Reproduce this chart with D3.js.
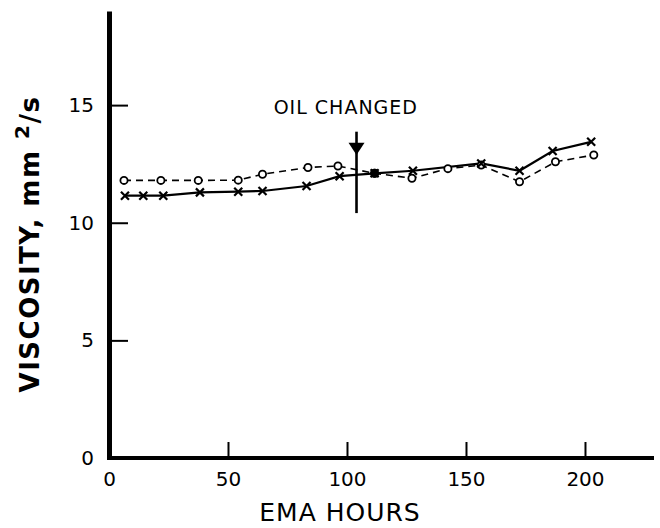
<!DOCTYPE html>
<html>
<head>
<meta charset="utf-8">
<script src="https://cdn.jsdelivr.net/npm/d3@7"></script>
<style>
  body { margin: 0; background: #fff; }
  text { font-family: "DejaVu Sans", sans-serif; fill: #000; }
</style>
</head>
<body>
<div id="chart"></div>
<script>
// chart size
var width = 660, height = 528;

// data
var hoursX = [6.7, 14.4, 22.8, 38.2, 54.3, 64.5, 83.0, 96.9, 111.6, 127.7, 156.4, 172.5, 186.4, 202.6];
var viscX  = [11.15, 11.15, 11.15, 11.29, 11.32, 11.35, 11.56, 11.98, 12.10, 12.21, 12.52, 12.21, 13.05, 13.44];

var hoursO = [6.3, 21.8, 37.5, 54.3, 64.5, 83.6, 96.2, 111.6, 127.3, 142.4, 156.4, 172.5, 187.6, 203.7];
var viscO  = [11.80, 11.80, 11.80, 11.81, 12.06, 12.35, 12.41, 12.10, 11.89, 12.30, 12.45, 11.74, 12.59, 12.88];

// the shared point just after the oil change is drawn filled
var filledHour = [111.6];
var filledVisc = [12.10];

var xTicks = [0, 50, 100, 150, 200];
var yTicks = [0, 5, 10, 15];

var oilChangeHour = 104;
var oilLine = [10.41, 13.87];   // bottom / top of the marker line
var oilArrow = [12.88, 13.40];  // tip / base of the arrow head
var oilLabel = "OIL CHANGED";

var svg = d3.select("#chart")
  .append("svg")
    .attr("width", width)
    .attr("height", height);

var x = d3.scaleLinear()
  .domain([0, 229])
  .range([109, 654]);

var y = d3.scaleLinear()
  .domain([0, 19])
  .range([458, 11]);

// X axis, ticks point up into the plot
var xAxis = svg.append("g")
  .attr("transform", "translate(0," + y(0) + ")")
  .call(d3.axisBottom(x).tickValues(xTicks).tickSizeInner(-16).tickSizeOuter(0).tickPadding(14));
xAxis.select(".domain").attr("stroke-width", 4).attr("d", "M" + (x(0) - 2) + ",0H" + x(229));
xAxis.selectAll(".tick line").attr("stroke-width", 2);
xAxis.selectAll(".tick text").style("font-size", "20px").style("font-family", "DejaVu Sans");

// Y axis, ticks point right
var yAxis = svg.append("g")
  .attr("transform", "translate(" + x(0) + ",0)")
  .call(d3.axisLeft(y).tickValues(yTicks).tickSizeInner(-19).tickSizeOuter(0).tickPadding(15));
yAxis.select(".domain").attr("stroke-width", 5);
yAxis.selectAll(".tick line").attr("stroke-width", 2);
yAxis.selectAll(".tick text").style("font-size", "20px").style("font-family", "DejaVu Sans");

// axis titles
svg.append("text")
  .attr("x", 340)
  .attr("y", 521)
  .attr("text-anchor", "middle")
  .style("font-size", "25px")
  .style("letter-spacing", "1px")
  .text("EMA HOURS");

var yLab = svg.append("text")
  .attr("transform", "translate(39,244) rotate(-90)")
  .attr("text-anchor", "middle")
  .style("font-size", "26px")
  .style("font-weight", "bold")
  .style("letter-spacing", "1.5px");
yLab.append("tspan").text("VISCOSITY,  mm ");
yLab.append("tspan").attr("dy", -10).style("font-size", "20px").text("2");
yLab.append("tspan").attr("dy", 10).text("/s");

// lines
var lineX = d3.line()
  .x(function(d, i) { return x(hoursX[i]); })
  .y(function(d) { return y(d); });
var lineO = d3.line()
  .x(function(d, i) { return x(hoursO[i]); })
  .y(function(d) { return y(d); });

svg.append("path")
  .attr("d", lineO(viscO))
  .attr("fill", "none")
  .attr("stroke", "#000")
  .attr("stroke-width", 1.6)
  .attr("stroke-dasharray", "7,5");

svg.append("path")
  .attr("d", lineX(viscX))
  .attr("fill", "none")
  .attr("stroke", "#000")
  .attr("stroke-width", 2.2);

// open circles
svg.selectAll("circle.o")
  .data(viscO)
  .enter()
  .append("circle")
    .attr("class", "o")
    .attr("cx", function(d, i) { return x(hoursO[i]); })
    .attr("cy", function(d) { return y(d); })
    .attr("r", 3.6)
    .attr("fill", "#fff")
    .attr("stroke", "#000")
    .attr("stroke-width", 1.8);

// x marks
var s = 4;
svg.selectAll("path.x")
  .data(viscX)
  .enter()
  .append("path")
    .attr("class", "x")
    .attr("d", function(d, i) {
      var cx = x(hoursX[i]), cy = y(d);
      return "M" + (cx - s) + "," + (cy - s) + "L" + (cx + s) + "," + (cy + s) +
             "M" + (cx - s) + "," + (cy + s) + "L" + (cx + s) + "," + (cy - s);
    })
    .attr("stroke", "#000")
    .attr("stroke-width", 2.2);

// filled point
svg.selectAll("circle.f")
  .data(filledVisc)
  .enter()
  .append("circle")
    .attr("class", "f")
    .attr("cx", function(d, i) { return x(filledHour[i]); })
    .attr("cy", function(d) { return y(d); })
    .attr("r", 4.5)
    .attr("fill", "#000");

// oil change marker
svg.append("line")
  .attr("x1", x(oilChangeHour))
  .attr("x2", x(oilChangeHour))
  .attr("y1", y(oilLine[0]))
  .attr("y2", y(oilLine[1]))
  .attr("stroke", "#000")
  .attr("stroke-width", 2.6);

svg.append("path")
  .attr("d", "M" + (x(oilChangeHour) - 8) + "," + y(oilArrow[1]) +
             "L" + (x(oilChangeHour) + 8) + "," + y(oilArrow[1]) +
             "L" + x(oilChangeHour) + "," + y(oilArrow[0]) + "Z")
  .attr("fill", "#000");

svg.append("text")
  .attr("x", x(99.5))
  .attr("y", y(14.62))
  .attr("text-anchor", "middle")
  .style("font-size", "19px")
  .style("letter-spacing", "1px")
  .text(oilLabel);
</script>
</body>
</html>
